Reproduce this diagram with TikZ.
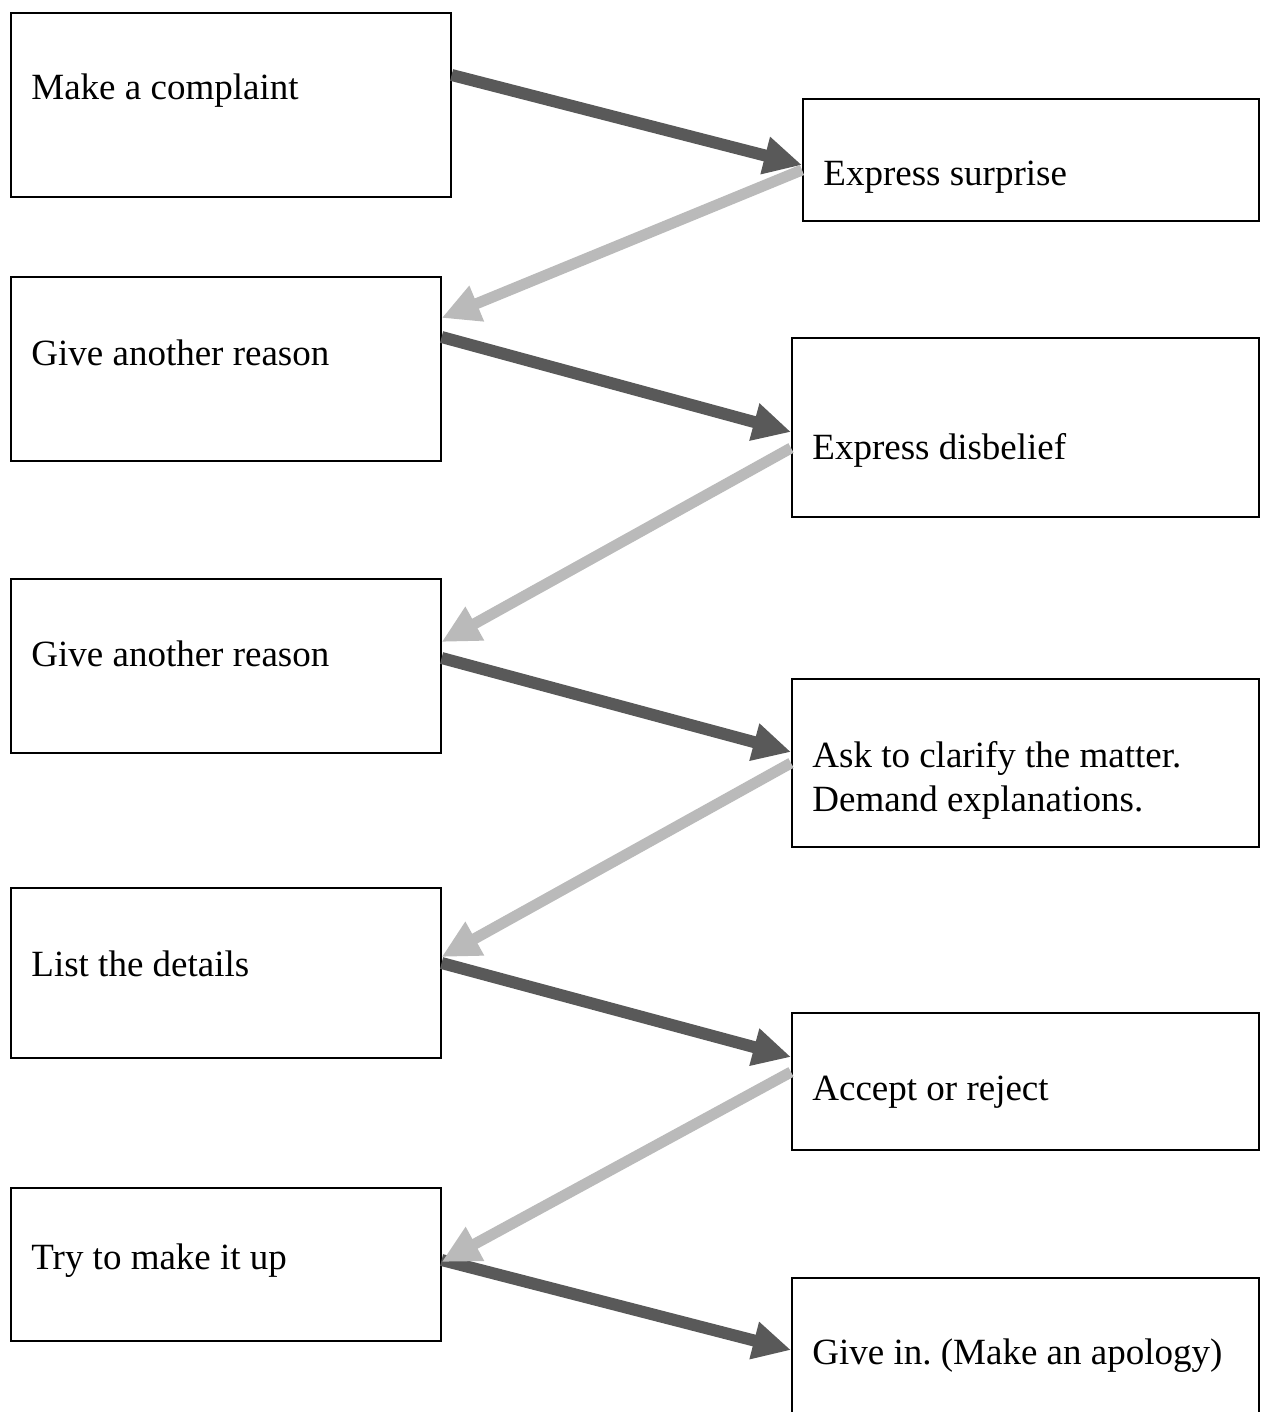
\documentclass[tikz,border=0pt]{standalone}
\usepackage{fontspec}
\setmainfont{Liberation Serif}
\frenchspacing
\usetikzlibrary{arrows.meta}
\definecolor{darkarr}{RGB}{89,89,89}
\definecolor{lightarr}{RGB}{186,186,186}
\tikzset{
  box/.style={draw, line width=0.8pt, anchor=north west, inner sep=0pt},
  txt/.style={anchor=base west, inner sep=0pt, font=\fontsize{18.5}{22}\selectfont},
  fwd/.style={darkarr, line width=6pt, -{Triangle[length=19pt,width=18pt]}},
  back/.style={lightarr, line width=5.5pt, -{Triangle[length=19pt,width=18pt]}}
}
\begin{document}
\begin{tikzpicture}[x=0.5pt,y=-0.5pt]
\clip (0,0) rectangle (1264,1412);
% left column
\node[box, minimum width=220pt, minimum height=92pt] (L1) at (10,12) {};
\node[box, minimum width=215pt, minimum height=92pt] (L2) at (10,276) {};
\node[box, minimum width=215pt, minimum height=87pt] (L3) at (10,578) {};
\node[box, minimum width=215pt, minimum height=85pt] (L4) at (10,887) {};
\node[box, minimum width=215pt, minimum height=76.5pt] (L5) at (10,1187) {};
% right column
\node[box, minimum width=228pt, minimum height=61pt] (R1) at (802,98) {};
\node[box, minimum width=233.5pt, minimum height=89.5pt] (R2) at (791,337) {};
\node[box, minimum width=233.5pt, minimum height=84pt] (R3) at (791,678) {};
\node[box, minimum width=233.5pt, minimum height=68.5pt] (R4) at (791,1012) {};
\node[box, minimum width=233.5pt, minimum height=100pt] (R5) at (791,1277) {};
% texts
\node[txt] (tL1) at (31,100) {Make a complaint};
\node[txt] (tL2) at (31,365) {Give another reason};
\node[txt] (tL3) at (31,666) {Give another reason};
\node[txt] (tL4) at (31,976) {List the details};
\node[txt] (tL5) at (31,1269) {Try to make it up};
\node[txt] (tR1) at (823,186) {Express surprise};
\node[txt] (tR2) at (812,459) {Express disbelief};
\node[txt] (tR3a) at (812,767) {Ask to clarify the matter.};
\node[txt] (tR3b) at (812,811) {Demand explanations.};
\node[txt] (tR4) at (812,1100) {Accept or reject};
\node[txt] (tR5) at (812,1364) {Give in. (Make an apology)};
% arrows
\draw[fwd] ([yshift=-31.5pt]L1.north east) -- ([yshift=-33.5pt]R1.north west);
\draw[fwd] ([yshift=-30.5pt]L2.north east) -- ([yshift=-47.5pt]R2.north west);
\draw[fwd] ([yshift=-40pt]L3.north east) -- ([yshift=-37pt]R3.north west);
\draw[fwd] ([yshift=-38pt]L4.north east) -- ([yshift=-22.5pt]R4.north west);
\draw[fwd] ([yshift=-36.5pt]L5.north east) -- ([yshift=-36.5pt]R5.north west);
\draw[back] ([yshift=-36pt]R1.north west) -- ([yshift=-21pt]L2.north east);
\draw[back] ([yshift=-55.5pt]R2.north west) -- ([yshift=-32pt]L3.north east);
\draw[back] ([yshift=-42.5pt]R3.north west) -- ([yshift=-35pt]L4.north east);
\draw[back] ([yshift=-30pt]R4.north west) -- ([yshift=-37.5pt]L5.north east);
\end{tikzpicture}
\end{document}
